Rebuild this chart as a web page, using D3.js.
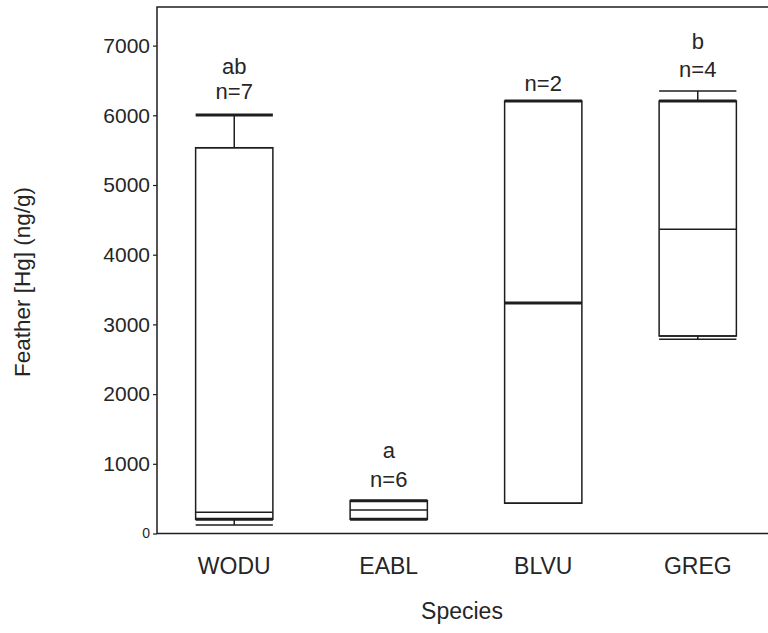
<!DOCTYPE html>
<html>
<head>
<meta charset="utf-8">
<script src="https://cdn.jsdelivr.net/npm/d3@7"></script>
<style>
  body { margin: 0; background: #fff; }
  text { font-family: "Liberation Sans", Arial, sans-serif; fill: #262626; }
</style>
</head>
<body>
<div id="chart-area"></div>
<script>
// values (ng/g)
const species = ["WODU", "EABL", "BLVU", "GREG"];
const lowWhisker = [122, 204, 435, 2786];
const q1 = [204, 204, 435, 2834];
const median = [304, 337, 3307, 4364];
const q3 = [5535, 471, 6205, 6205];
const highWhisker = [6004, 471, 6205, 6349];
const nLabels = ["n=7", "n=6", "n=2", "n=4"];
const groupLetters = ["ab", "a", "", "b"];
const nLabelY = [6230, 662, 6345, 6547];
const letterY = [6590, 1085, null, 6950];
const yTicks = [0, 1000, 2000, 3000, 4000, 5000, 6000, 7000];

// which edges come out heavier in the original
const thick = {
  WODU: ["high", "q1"],
  EABL: ["q1", "q3"],
  BLVU: ["q3", "median"],
  GREG: ["q3"]
};

const margin = { top: 7, right: 0, bottom: 100, left: 157 };
const width = 618;
const height = 526.5;

const svg = d3.select("#chart-area")
  .append("svg")
    .attr("width", 768)
    .attr("height", 633);

const g = svg.append("g")
  .attr("transform", `translate(${margin.left}, ${margin.top})`);

const x = d3.scaleBand()
  .domain(species)
  .range([0, width])
  .paddingInner(0.5)
  .paddingOuter(0.25);

const y = d3.scaleLinear()
  .domain([0, 7554])
  .range([height, 0]);

const data = species.map((s, i) => ({
  s,
  low: lowWhisker[i], q1: q1[i], median: median[i], q3: q3[i], high: highWhisker[i],
  n: nLabels[i], letter: groupLetters[i], nY: nLabelY[i], letterY: letterY[i]
}));

const sw = (d, key) => (thick[d.s].includes(key) ? 3 : 1.5);
const ink = "#1e1e1e";

// panel border
g.append("rect")
  .attr("x", 0)
  .attr("y", 0)
  .attr("width", width)
  .attr("height", height)
  .attr("fill", "none")
  .attr("stroke", ink)
  .attr("stroke-width", 1.5);

const boxes = g.selectAll(".box")
  .data(data)
  .enter().append("g")
    .attr("class", "box");

// whiskers
boxes.append("line")
  .attr("x1", d => x(d.s) + x.bandwidth() / 2)
  .attr("x2", d => x(d.s) + x.bandwidth() / 2)
  .attr("y1", d => y(d.q3))
  .attr("y2", d => y(d.high))
  .attr("stroke", ink)
  .attr("stroke-width", 1.5);

boxes.append("line")
  .attr("x1", d => x(d.s) + x.bandwidth() / 2)
  .attr("x2", d => x(d.s) + x.bandwidth() / 2)
  .attr("y1", d => y(d.q1))
  .attr("y2", d => y(d.low))
  .attr("stroke", ink)
  .attr("stroke-width", 1.5);

// box body
boxes.append("rect")
  .attr("x", d => x(d.s))
  .attr("y", d => y(d.q3))
  .attr("width", x.bandwidth())
  .attr("height", d => y(d.q1) - y(d.q3))
  .attr("fill", "#fff")
  .attr("stroke", ink)
  .attr("stroke-width", 1.5);

// horizontal pieces: caps, box edges, median
["low", "high", "q1", "q3", "median"].forEach(key => {
  boxes.filter(d => key !== "low" && key !== "high" || d[key] !== d[key === "low" ? "q1" : "q3"] || thick[d.s].includes(key))
    .append("line")
      .attr("x1", d => x(d.s))
      .attr("x2", d => x(d.s) + x.bandwidth())
      .attr("y1", d => y(d[key]))
      .attr("y2", d => y(d[key]))
      .attr("stroke", ink)
      .attr("stroke-width", d => sw(d, key));
});

// annotations
boxes.append("text")
  .attr("x", d => x(d.s) + x.bandwidth() / 2)
  .attr("y", d => y(d.nY))
  .attr("text-anchor", "middle")
  .attr("font-size", "22px")
  .text(d => d.n);

boxes.filter(d => d.letter)
  .append("text")
    .attr("x", d => x(d.s) + x.bandwidth() / 2)
    .attr("y", d => y(d.letterY))
    .attr("text-anchor", "middle")
    .attr("font-size", "22px")
    .text(d => d.letter);

// axes
const yAxisGroup = g.append("g")
  .call(d3.axisLeft(y)
    .tickValues(yTicks)
    .tickFormat(d3.format("d"))
    .tickSize(4)
    .tickPadding(3));

yAxisGroup.select(".domain").remove();
yAxisGroup.selectAll(".tick line").attr("stroke", ink).attr("stroke-width", 1.2);
yAxisGroup.selectAll(".tick text")
  .attr("font-size", "21px")
  .attr("font-family", "Liberation Sans, Arial, sans-serif")
  .attr("fill", "#262626");
yAxisGroup.selectAll(".tick text")
  .filter(d => d === 0)
  .attr("font-size", "14px")
  .attr("fill", "#777");

const xAxisGroup = g.append("g")
  .attr("transform", `translate(0, ${height})`)
  .call(d3.axisBottom(x).tickSize(0).tickPadding(24));

xAxisGroup.select(".domain").remove();
xAxisGroup.selectAll(".tick text")
  .attr("font-size", "23px")
  .attr("font-family", "Liberation Sans, Arial, sans-serif")
  .attr("fill", "#262626");

// axis titles
svg.append("text")
  .attr("x", 462)
  .attr("y", 619)
  .attr("font-size", "23px")
  .attr("text-anchor", "middle")
  .text("Species");

svg.append("text")
  .attr("transform", "translate(30, 282) rotate(-90)")
  .attr("font-size", "22.5px")
  .attr("text-anchor", "middle")
  .text("Feather [Hg] (ng/g)");
</script>
</body>
</html>
